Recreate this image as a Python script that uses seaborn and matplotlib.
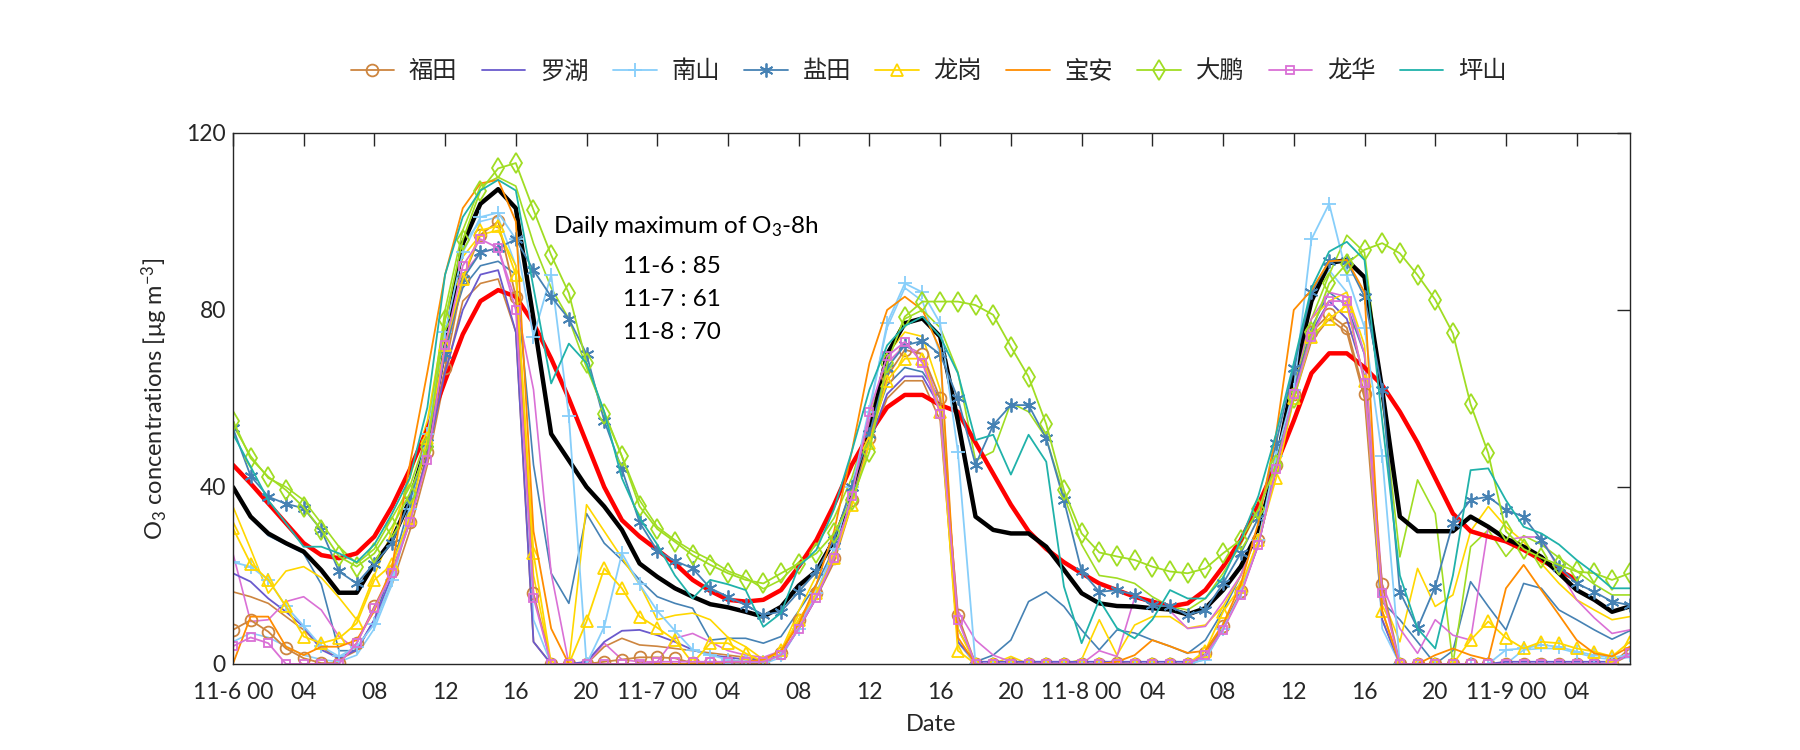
import numpy as np
import matplotlib
matplotlib.use("Agg")
import matplotlib.pyplot as plt
import seaborn as sns

# =========================
# Data (hourly, 11-6 00 -> 11-9 07)
# =========================
hours = list(range(80))
nan = np.nan

futian = [
    7.7, 9.9, 7.3, 3.5, 1.3, 0.2, 0.2, 4.7, 13, 21, 32, 48,
    67, 87, 97, 100, 83, 16, 0, 0, 0, 0.5, 1, 1.5,
    1.5, 1.3, 0.2, 0.3, 0.5, 0.2, 0, 2.4, 10, 16, 24, 37,
    51, 65, 71, 70, 60, 11, 0, 0, 0, 0, 0, 0,
    0, 0, 0.3, 0, 0, 0, 0, 2.4, 8.6, 16.5, 28, 45,
    61, 75, 79, 76, 61, 18, 0, 0, 0, 0, 0, 0,
    0, 0, 0, 0, 0, 0, 0, 3.5]
luohu = [
    20.5, 18.6, 14.8, 11.8, 8.4, 3.2, 1.3, 3.2, 10, 20, 33, 47,
    66, 80, 88, 89, 75, 5, 0, 0, 0.5, 5, 7.5, 7.7,
    6.5, 5, 3.2, 2, 1.5, 1, 1, 2, 8, 15, 24, 37,
    50, 61, 65, 65, 58, 5, 0.5, 0.5, 0.5, 0.5, 0.5, 0.5,
    0.5, 0.5, 0.5, 0.5, 0.5, 0.5, 0.5, 1.5, 8, 16, 27, 44,
    62, 75, 82, 78, 65, 10, 0, 0, 0, 0, 0, 0,
    0.5, 0.5, 0.5, 0.5, 0.5, 0.5, 0.5, 2]
nanshan = [
    23, 22, 19, 13, 8.6, 4, 1.7, 3.9, 9, 19, 35, 52,
    75, 93, 101, 102, 96, 74, 88, 56, 0, 8.4, 25, 18,
    12, 7.5, 3.2, 2, 1, 0.5, 0.5, 2, 8, 16, 26, 40,
    57, 77, 86, 84, 77, 48, 0, 0, 0, 0, 0, 0,
    0, 0, 0, 0, 0, 0, 0, 1, 8, 16, 28, 47,
    62, 96, 104, 88, 76, 47, 0, 0, 0, 0, 0, 0,
    3.2, 3.5, 4.3, 3.9, 2.8, 2, 1.5, 2]
yantian = [
    53.3, 42.5, 37.8, 36.2, 35.2, 30.3, 20.9, 18.2, 22.7, 27.3, 37, 50,
    70, 87, 93, 94, 96, 89, 83, 78, 70, 55, 44, 32,
    25.6, 23.3, 21.6, 17.1, 15.2, 13.3, 11.1, 11.8, 16.3, 20.9, 28, 40,
    52, 67, 72, 73, 70, 60, 45, 54, 58.5, 58.5, 51, 37,
    21, 16.3, 16.7, 15.6, 13.3, 13, 11.1, 12.2, 18.2, 25, 33, 50,
    67, 84, 91, 91, 83, 62, 16.3, 8.1, 17.5, 31.8, 37.1, 37.8,
    34.8, 33.3, 28, 22, 18.2, 16.3, 14.1, 13.3]
longgang = [
    30.7, 22.7, 19, 13, 6.2, 4.7, 5.8, 9.2, 19, 22.5, 33, 51,
    72, 87, 98, 99, 88, 25, 0, 0, 9.6, 21.6, 17.1, 10.7,
    8.2, 5.4, 0.2, 4.7, 4.7, 2.4, 0.5, 3.2, 10, 16, 24, 36,
    50, 64, 69, 69, 57, 3, 0, 0, 0, 0, 0, 0,
    0, 0, 0, 0, 0, 0, 0, 3, 11.8, 17.5, 28, 42,
    60, 74, 78, 81, 64, 12, 0, 0, 0, 0, 5.4, 9.6,
    5.9, 3.5, 5, 4.7, 3.5, 2.8, 1.7, 5]
baoan = [
    0, 10.7, 10.7, 3.9, 2, 3.9, 3.9, 5.4, 12, 22, 45, 66,
    88, 103, 108.6, 109.4, 100, 30, 8, 0, 0, 0, 0, 0,
    0, 0, 0, 0, 0.5, 0.5, 1, 3, 9, 18, 30, 48,
    68, 80, 83, 80, 71, 6, 0, 0, 0, 0, 0, 0,
    0, 0, 0.5, 2, 5.4, 4, 2.5, 3, 9, 18, 32, 52,
    80, 84.5, 91, 91.3, 84, 12, 0, 0, 2, 3.5, 2, 1,
    17.1, 22.4, 16.7, 11.1, 5.4, 2.4, 1.7, 3.9]
dapeng = [
    55, 46.5, 42.3, 39.3, 35.4, 30.3, 24.3, 22, 25, 31, 38.5, 49,
    77.7, 95.8, 107, 112, 113.2, 102.6, 92.4, 83.8, 68, 56.6, 46.9, 35.6,
    30.5, 27.6, 24.6, 22.4, 20.5, 19, 18.2, 20.5, 22.7, 25, 29.5, 37,
    48, 68, 78.5, 81.9, 81.9, 81.9, 81.1, 78.9, 71.7, 64.9, 54.2, 39.3,
    29.5, 25.2, 24.3, 23.5, 22, 20.9, 20.5, 21.6, 25, 28, 35, 45,
    60, 75, 86, 90.5, 93.6, 95.1, 92.8, 87.9, 82.3, 74.7, 58.7, 47.6,
    30, 26, 24, 22.4, 20.9, 20.5, 19, 20.5]
longhua = [
    4, 6, 4.7, 0, 0, 0, 0, 4.7, 12.6, 20.5, 32, 46,
    72, 90, 96, 94, 80, 15, 0, 0, 0, 0, 0, 0,
    0.5, 0.5, 0.5, 0.5, 0.5, 0.5, 0.5, 2, 8, 15, 24, 38,
    57, 69.5, 72.8, 68, 56.6, 10, 0, 0, 0, 0, 0, 0,
    0, 0, 0, 0, 0, 0, 0, 2, 7.7, 15.6, 27, 44,
    61, 74, 82, 82, 63.5, 16, 0, 0, 0, 0, 0, 0,
    0, 0, 0, 0, 0, 0, 0, 2.4]
pingshan = [
    52, 44.6, 37, 31.8, 26.5, 26.5, 25, 23, 27, 34, 42, 58,
    88, 101, 107, 109.4, 107, 85, 63.4, 72.4, 68, 57, 42, 33,
    27, 20, 14.8, 19, 18, 16.7, 8.4, 11.5, 22, 25.8, 35, 48,
    62, 72, 76.4, 78.5, 74, 65.7, 50.6, 51.8, 42.8, 51.8, 45.7, 17.5,
    4.7, 14.5, 8.1, 5.8, 10, 16.7, 14.8, 14.8, 19.5, 28, 38, 52,
    68, 85, 93.2, 95.4, 91.3, 55, 20, 8, 3.5, 20, 43.8, 44.2,
    37, 31, 29.5, 27, 23.5, 20.5, 17.1, 17.1]

# second (unmarked) set for the marked stations
futian_b = [
    16.3, 15.2, 13.7, 10.7, 7.7, 3.9, 1, 3, 10, 18, 30, 45,
    65, 82, 86, 87, 75, 5, 0, 0, 0, 3.9, 5.8, 4.3,
    4, 3.5, 3, 2.5, 2, 1.5, 1, 2, 8, 15, 23, 36,
    50, 60, 64, 64, 55, 5, 0, 0, 0, 0, 0, 0,
    0, 0, 0, 0, 0, 0, 0, 1.5, 8, 16, 27, 44,
    60, 73, 78, 75, 60, 10, 0, 0, 0, 0, 0, 0,
    0, 0, 0, 0, 0, 0, 0, 2]
nanshan_b = [
    5, 7, 6, 4, 2, 1, 0.5, 2, 8, 18, 34, 52,
    78, 95, 100, 101, 90, 10, 0, 0, 0, 0, 0, 0,
    0, 0, 0, 0, 0, 0, 0, 1.5, 8, 16, 26, 40,
    58, 76, 85, 82, 70, 5, 0, 0, 0, 0, 0, 0,
    0, 0, 0, 0, 0, 0, 0, 1, 8, 16, 28, 46,
    66, 84, 89, 84, 70, 8, 0, 0, 0, 0, 0, 0,
    0, 3.2, 3.5, 3.5, 2.5, 1.5, 1, 1.5]
yantian_b = [
    40, 33, 29, 27, 25, 18, 3, 3, 10, 22, 36, 50,
    72, 85, 90, 91, 88, 45, 20.5, 13.7, 34, 27.3, 23.5, 19,
    15.2, 13.7, 12.6, 5.4, 5.8, 5.8, 4.7, 6.2, 12, 18, 26, 38,
    52, 63, 67, 66, 60, 8, 0.5, 2, 5.4, 14.1, 16.3, 13,
    7.7, 3.2, 7.7, 7, 5.4, 4, 2.4, 5.4, 12, 20, 30, 45,
    62, 76, 84, 81, 70, 14, 10, 5, 0, 3, 18.6, 13,
    7.7, 18.2, 17.1, 12.2, 10, 7.7, 5.6, 7.5]
longgang_b = [
    35.6, 26, 16, 21, 22, 19.5, 15, 10, 20, 30, 42, 55,
    78, 92, 97, 98, 90, 20, 0, 0, 36, 30, 24, 18,
    10, 11, 11.5, 10, 6, 3.9, 1, 3, 12, 20, 28, 40,
    55, 70, 75, 74, 62, 8, 0, 0, 1.7, 0, 0, 0,
    1, 10, 2, 8.8, 10.7, 10.7, 8.1, 8.8, 13, 20, 30, 45,
    64, 78, 82, 84, 72, 15, 5, 21.6, 13, 15.6, 30, 35.6,
    31, 27.6, 22.7, 18.2, 14.5, 12.2, 10, 10.7]
dapeng_b = [
    54, 47, 42, 40, 37, 31.8, 26.5, 22.7, 26, 33, 40, 52,
    80, 98, 108, 110, 108, 95, 85, 78, 67, 57, 47, 37,
    31, 28, 25.5, 23.5, 21, 19.5, 17, 19, 23, 27, 33, 42,
    55, 70, 78, 80, 76, 66, 46, 48, 59, 57, 51, 38,
    27, 20, 19.4, 18.2, 15.2, 13, 12.2, 14.8, 20.5, 27, 35, 47,
    62, 78, 88, 96.9, 93, 60, 24.2, 41.6, 34, 0, 26.5, 30.3,
    24.3, 29, 27, 24, 21, 18, 15.6, 15.6]
longhua_b = [
    25, 9.6, 10, 14.1, 15.2, 12.2, 6.2, 3.2, 10, 20, 32, 47,
    70, 88, 93, 94, 82, 62, 20.5, 0, 0, 4.7, 1, 0.5,
    0.5, 5.8, 6.9, 5, 3, 2, 1.5, 3, 9, 16, 25, 38,
    55, 68, 72, 70, 58, 12, 5.4, 2, 0.5, 0.5, 0.5, 0.5,
    0, 3, 1.7, 15, 13.7, 12, 8, 8.5, 14, 20, 30, 46,
    64, 78, 84, 83, 70, 18, 8, 2.4, 10, 6.5, 5.4, 31,
    28, 28.7, 28.7, 21.2, 14.5, 10.4, 6.9, 7.7]

# O3-8h (red) and city mean (black)
o3_8h = [
    45, 40.8, 36.3, 31.8, 27.3, 24.6, 23.9, 25, 28.8, 35.6, 43.9, 53,
    64, 74.5, 82, 84.5, 83, 77, 69, 60, 50, 40, 32.5, 28.8,
    25.8, 22.7, 19, 16.5, 14.5, 14.1, 14.5, 16.7, 22, 28, 36, 45,
    52, 58, 60.8, 60.8, 58.5, 57, 50, 43, 36, 30, 26, 23,
    20.5, 18.2, 16.7, 15.2, 14.1, 13, 13.7, 16.7, 22, 28, 36, 45,
    55, 65.7, 70.2, 70.2, 67, 63, 57, 50, 42, 34, 30, 28.8,
    27.7, 25.8, 23.5, 21.2, 19, nan, nan, nan]
city_mean = [
    40, 33.3, 29.5, 27.3, 25.4, 21.2, 16.1, 16.1, 22.7, 28, 37, 50,
    72, 95, 104, 107.3, 103, 78, 52, 46, 40, 35.6, 30.3, 22.7,
    19.7, 17.1, 15.2, 13.5, 12.8, 11.8, 10.7, 12.9, 17.7, 21, 28, 38,
    52, 70, 77, 78.1, 74, 55, 33.3, 30.3, 29.5, 29.5, 26.5, 21.3,
    16, 13.7, 13.1, 13, 12.6, 12.3, 11.2, 12.6, 16.7, 22, 30, 45,
    65, 82, 90.6, 91.3, 87.4, 62, 33.3, 30, 30, 30, 33.3, 31,
    28.3, 26.5, 24.2, 20.5, 16.7, 14.5, 11.8, 13]

stations = ["福田", "罗湖", "南山", "盐田", "龙岗", "宝安", "大鹏", "龙华", "坪山"]
colors = ["#CD853F", "#6A5ACD", "#87CEFA", "#4682B4", "#FFD700",
          "#FF8C00", "#A0DD23", "#DA70D6", "#20B2AA"]
# (6, 2, 0) = asterisk, like the MATLAB '*'
markers = ["o", None, "+", (6, 2, 0), "^", None, "d", "s", None]
msizes = [8.5, 0, 10, 10, 9, 0, 10, 6, 0]
station_vals = [futian, luohu, nanshan, yantian, longgang,
                baoan, dapeng, longhua, pingshan]
plain_vals = [futian_b, nanshan_b, yantian_b, longgang_b, dapeng_b, longhua_b]
plain_colors = ["#CD853F", "#87CEFA", "#4682B4", "#FFD700", "#A0DD23", "#DA70D6"]

# daily maximum text
max_days = ["11-6", "11-7", "11-8"]
max_vals = [85, 61, 70]

# =========================
# Style
# =========================
sns.set_theme(style="white")
plt.rcParams["font.family"] = ["Lato", "Noto Sans CJK SC", "DejaVu Sans"]
plt.rcParams["mathtext.fontset"] = "custom"
plt.rcParams["mathtext.rm"] = "Lato"
plt.rcParams["mathtext.it"] = "Lato:italic"
plt.rcParams["mathtext.default"] = "regular"

fig = plt.figure(figsize=(18, 7.5), dpi=100)
ax = fig.add_axes([0.1294, 0.1147, 0.776, 0.708])

# plain lines first
for vals, col in zip(plain_vals, plain_colors):
    sns.lineplot(x=hours, y=vals, ax=ax, color=col, linewidth=1.2,
                 estimator=None, legend=False)

sns.lineplot(x=hours, y=o3_8h, ax=ax, color="#FF0000", linewidth=3.2,
             estimator=None, legend=False)
sns.lineplot(x=hours, y=city_mean, ax=ax, color="#000000", linewidth=3.2,
             estimator=None, legend=False)

handles = []
for name, vals, col, mk, ms in zip(stations, station_vals, colors, markers, msizes):
    kw = dict(color=col, linewidth=1.3, estimator=None, legend=False)
    if mk is not None:
        kw.update(marker=mk, markersize=ms, markerfacecolor="none",
                  markeredgecolor=col, markeredgewidth=1.3)
    sns.lineplot(x=hours, y=vals, ax=ax, **kw)
    handles.append(ax.lines[-1])

ax.legend(handles, stations, loc="center", bbox_to_anchor=(0.498, 1.117),
          ncol=9, frameon=False, fontsize=17.5, handlelength=1.8,
          handletextpad=0.6, columnspacing=1.0)

# axes
ax.set_xlim(0, 79)
ax.set_ylim(0, 120)
ticks = list(range(0, 77, 4))
labels = []
for h in ticks:
    if h % 24 == 0:
        labels.append("11-%d 00" % (6 + h // 24))
    else:
        labels.append("%02d" % (h % 24))
ax.set_xticks(ticks)
ax.set_xticklabels(labels)
ax.set_yticks([0, 40, 80, 120])
ax.tick_params(direction="in", top=True, right=True, length=9.5, width=1,
               labelsize=16.5, colors="#262626", pad=5)
ax.tick_params(axis="x", pad=13)
for sp in ax.spines.values():
    sp.set_visible(True)
    sp.set_linewidth(1)
    sp.set_color("#262626")

ax.set_xlabel("Date", fontsize=17, labelpad=8, color="#262626")
ax.set_ylabel("O$_3$ concentrations [$\\mu$g m$^{-3}$]", fontsize=17,
              labelpad=12, color="#262626")

ax.text(18.1, 98.8, "Daily maximum of O$_3$-8h", fontsize=17.5,
        ha="left", va="center", color="black")
for i, (d, v) in enumerate(zip(max_days, max_vals)):
    ax.text(22.05, 89.8 - i * 7.4, "%s : %d" % (d, v), fontsize=17.5,
            ha="left", va="center", color="black")

fig.savefig("out.png", dpi=100)
